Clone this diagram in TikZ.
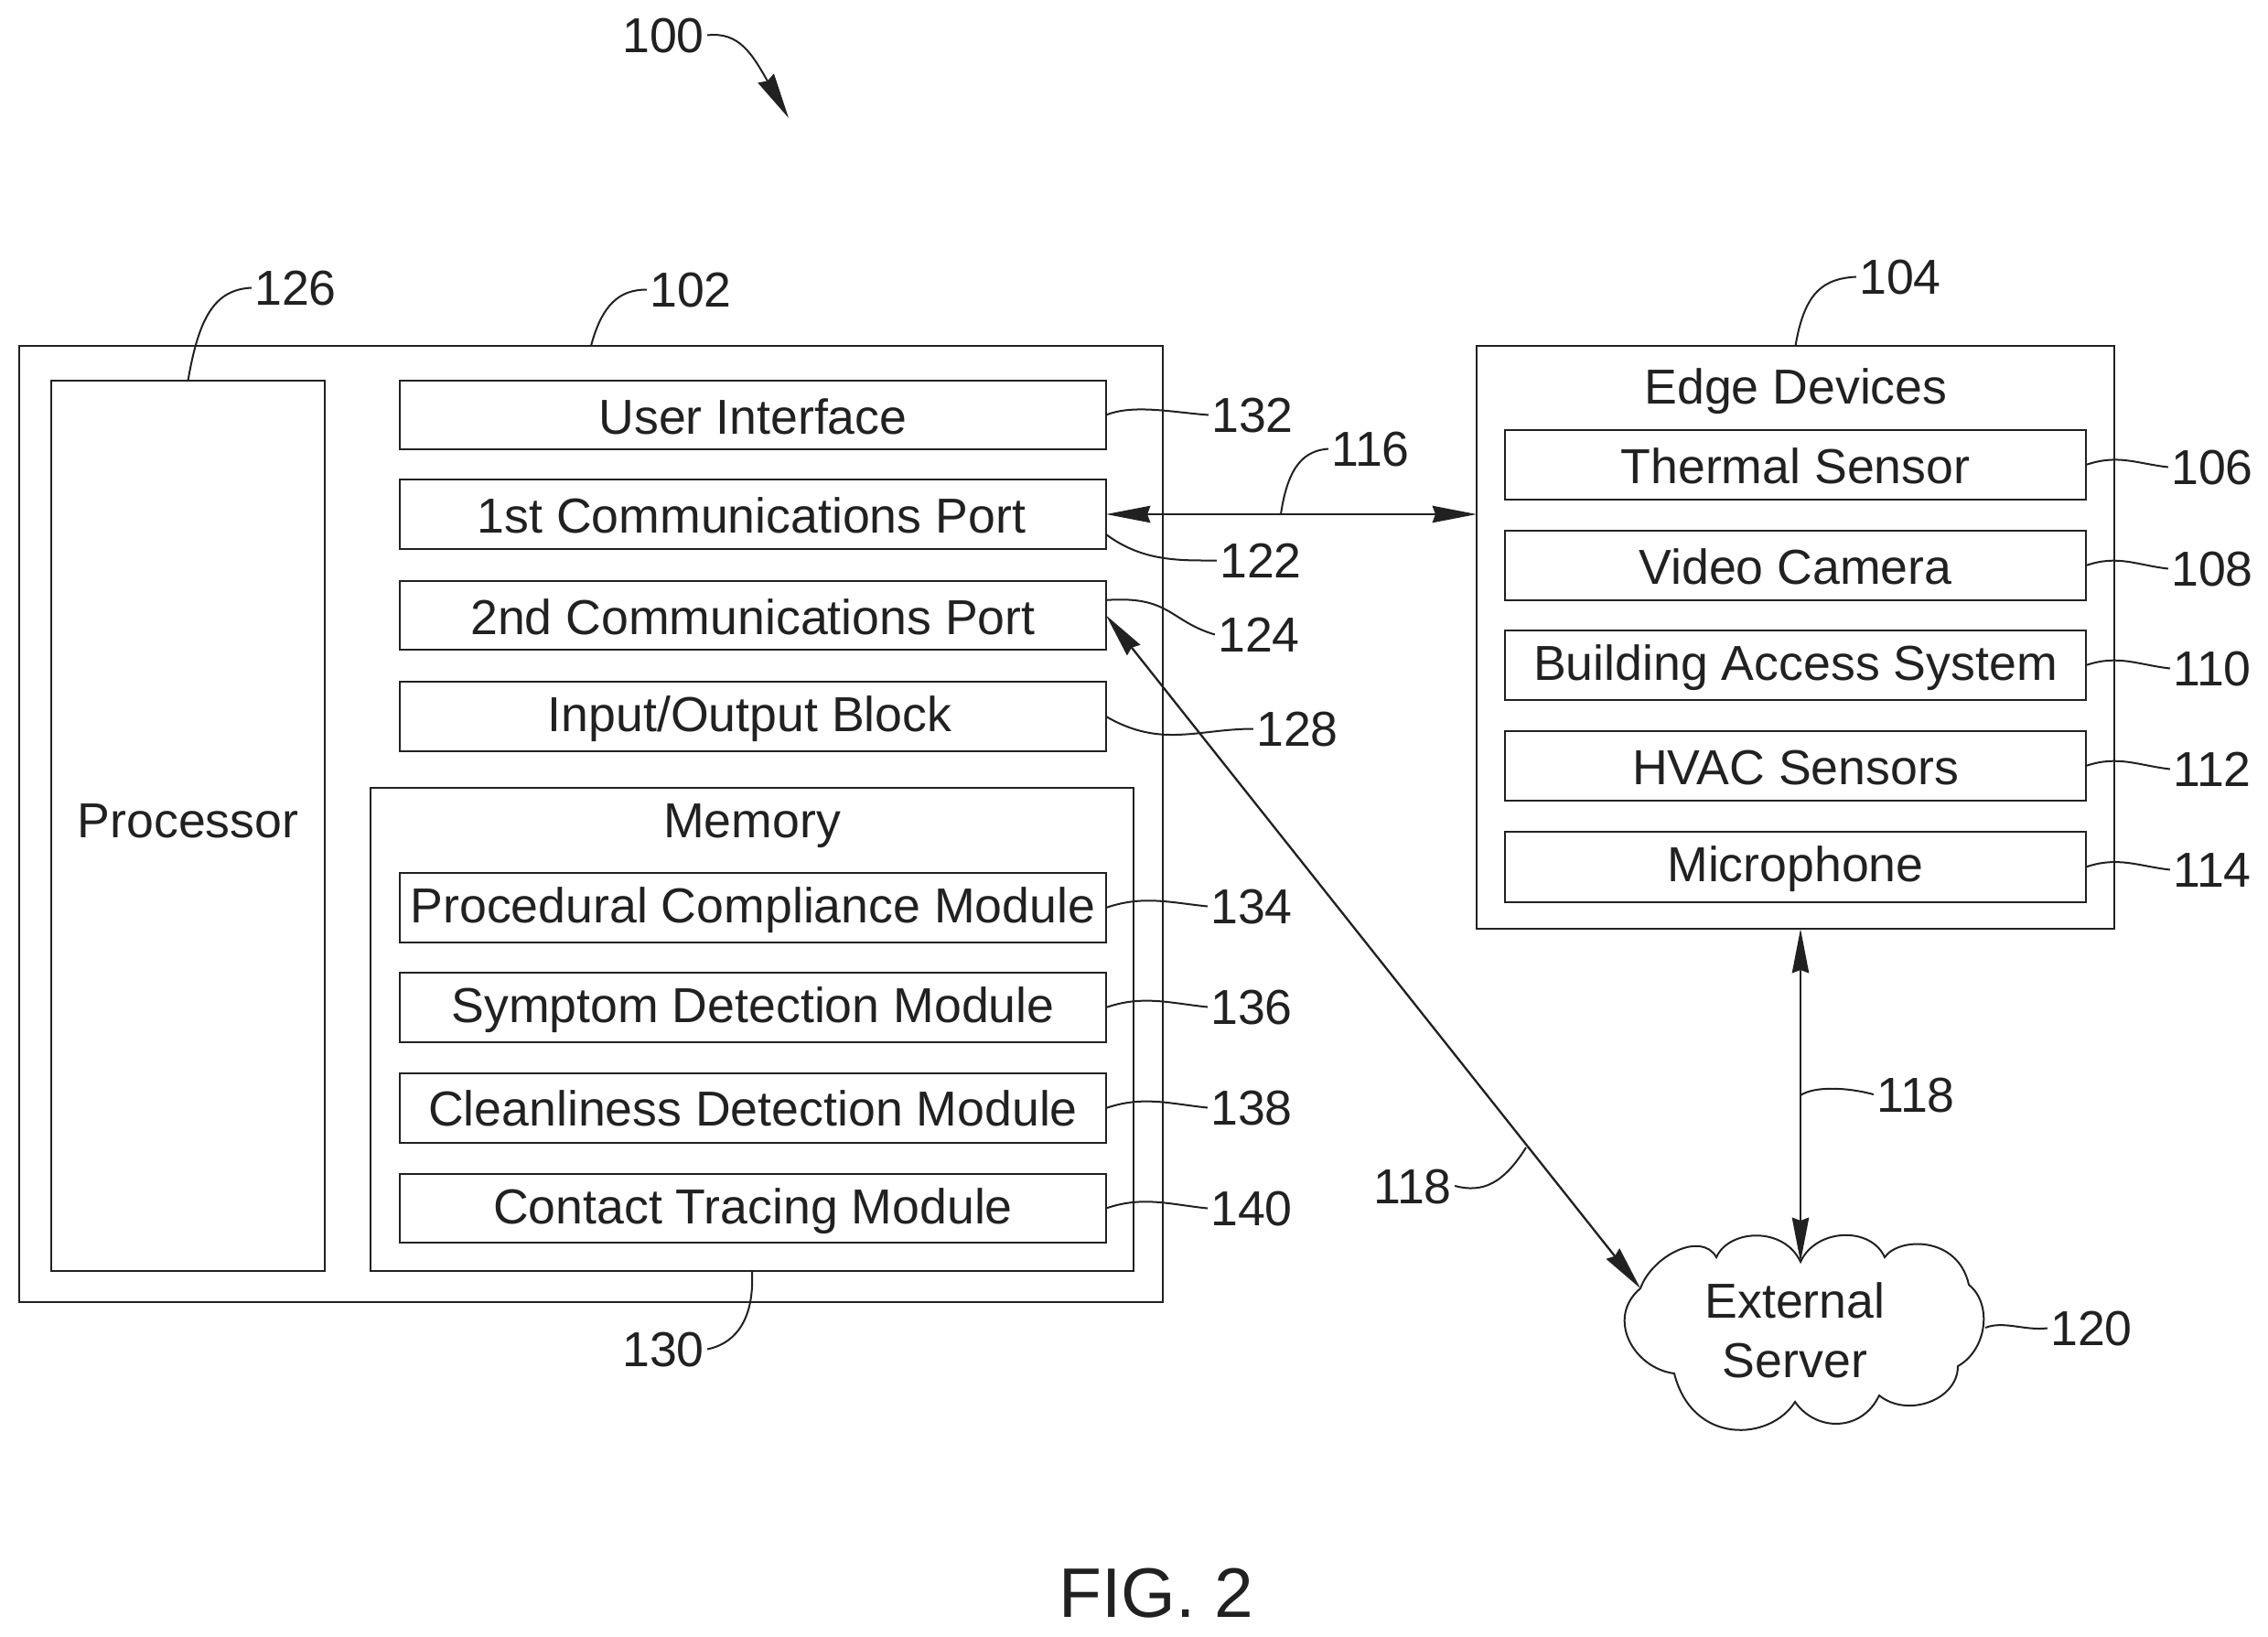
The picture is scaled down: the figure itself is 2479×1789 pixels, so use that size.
\documentclass[tikz,border=0pt]{standalone}
\usepackage{fontspec}
\setmainfont{Liberation Sans}
\usetikzlibrary{arrows.meta,calc}
\definecolor{ink}{gray}{0.13}
\tikzset{
  box/.style={draw=ink,line width=0.85pt,rectangle,inner sep=0pt,outer sep=0pt,text=ink,
    font=\fontsize{16.1}{19.5}\selectfont,text height=11.5pt,text depth=0pt,align=center},
  txt/.style={inner sep=0pt,outer sep=0pt,text=ink,font=\fontsize{16.1}{19.5}\selectfont,text height=11.5pt,text depth=0pt},
  num/.style={txt,outer sep=1pt},
  leader/.style={draw=ink,line width=0.6pt},
  link/.style={draw=ink,line width=0.7pt,{Stealth[length=14.5pt,width=5.5pt,inset=1pt]}-{Stealth[length=14.5pt,width=5.5pt,inset=1pt]}},
  oneway/.style={draw=ink,line width=0.6pt,-{Stealth[length=15pt,width=6pt,inset=1pt]}},
}
\newcommand{\bx}[7]{\node[box,minimum width={(#4-#2)*0.3pt},minimum height={(#5-#3)*0.3pt}] (#1) at ({(#2+#4)/2},{(#3+#5)/2}) {\raisebox{#7}{#6}};}
\newcommand{\lb}[3]{\node[num] (l#1) at ({#2},{#3-1.5}) {#1};}
\begin{document}
\begin{tikzpicture}[x=0.3pt,y=-0.3pt]
\useasboundingbox (0,0) rectangle (2479,1789);
% main blocks
\bx{outer}{21}{378}{1271}{1423}{}{0pt}
\bx{proc}{56}{416}{355}{1389}{Processor}{1.9pt}
\bx{ui}{437}{416}{1209}{491}{User Interface}{-0.5pt}
\bx{pa}{437}{524}{1209}{600}{\hspace*{-1pt}1st Communications Port}{-0.5pt}
\bx{pb}{437}{635}{1209}{710}{2nd Communications Port}{-0.5pt}
\bx{io}{437}{745}{1209}{821}{\hspace*{-2pt}Input/Output Block}{0.8pt}
\bx{mem}{405}{861}{1239}{1389}{}{0pt}
\node[txt] (memt) at (822,896) {Memory};
\bx{ma}{437}{954}{1209}{1030}{Procedural Compliance Module}{0.9pt}
\bx{mb}{437}{1063}{1209}{1139}{Symptom Detection Module}{0.9pt}
\bx{mc}{437}{1173}{1209}{1249}{Cleanliness Detection Module}{0pt}
\bx{md}{437}{1283}{1209}{1358}{Contact Tracing Module}{0.7pt}
% edge devices
\bx{edge}{1614}{378}{2311}{1015}{}{0pt}
\node[txt] (edget) at (1963,422) {Edge Devices};
\bx{ea}{1645}{470}{2280}{546}{Thermal Sensor}{-0.5pt}
\bx{eb}{1645}{580}{2280}{656}{Video Camera}{-0.5pt}
\bx{ec}{1645}{689}{2280}{765}{Building Access System}{0.9pt}
\bx{ed}{1645}{799}{2280}{875}{HVAC Sensors}{-0.5pt}
\bx{ee}{1645}{909}{2280}{986}{Microphone}{0.9pt}
% cloud
\coordinate (ca) at (1793,1408);
\coordinate (cc) at (1968,1379);
\draw[draw=ink,line width=0.6pt] (ca)
  .. controls (1806,1372) and (1860,1345) .. (1876,1374)
  .. controls (1890,1343) and (1950,1340) .. (cc)
  .. controls (1985,1342) and (2045,1340) .. (2060,1374)
  .. controls (2075,1352) and (2140,1350) .. (2152,1404)
  .. controls (2178,1425) and (2172,1475) .. (2140,1493)
  .. controls (2140,1530) and (2085,1550) .. (2054,1525)
  .. controls (2035,1565) and (1985,1565) .. (1962,1532)
  .. controls (1935,1575) and (1850,1580) .. (1830,1501)
  .. controls (1785,1495) and (1755,1440) .. (ca) -- cycle;
\node[txt,align=center,text height=11.5pt] (srv) at (1962,1486) {External\\Server};
\coordinate (ce) at (2170,1451);
% labels
\lb{100}{725}{40}
\lb{126}{323}{316}
\lb{102}{755}{318}
\lb{104}{2077}{304}
\lb{132}{1369}{455}
\lb{116}{1498}{492}
\lb{122}{1378}{614}
\lb{124}{1376}{695}
\lb{128}{1418}{798}
\lb{134}{1368}{992}
\lb{136}{1368}{1102}
\lb{138}{1368}{1212}
\lb{140}{1368}{1322}
\lb{106}{2418}{512}
\lb{108}{2418}{623}
\lb{110}{2418}{732}
\lb{112}{2418}{842}
\lb{114}{2418}{952}
\node[num] (lra) at (2094,1196) {118};
\node[num] (lrb) at (1544,1296) {118};
\lb{130}{725}{1476}
\lb{120}{2286}{1453}
\node[inner sep=0pt,outer sep=0pt,text=ink,font=\fontsize{23}{27}\selectfont,text height=16.5pt,text depth=0pt] (fig) at (1264,1740) {FIG. 2};
% connectors
\draw[link] (pa.east) -- (edge.west |- pa.east);
\draw[link] (pb.east) -- (ca);
\draw[link] (cc |- edge.south) -- (cc);
% leaders
\coordinate (t100) at (862,129);
\draw[oneway] (l100.east) .. controls +(35,-4) and +(-40,-70) .. (t100);
\draw[leader] (proc.north) .. controls +(12,-70) and +(-40,2) .. (l126.west);
\draw[leader] (outer.north) .. controls +(12,-45) and +(-30,0) .. (l102.west);
\draw[leader] (edge.north) .. controls +(10,-60) and +(-35,2) .. (l104.west);
\coordinate (a116) at (1400,562);
\draw[leader] (a116) .. controls +(8,-55) and +(-25,2) .. (l116.west);
\draw[leader] (ui.east) .. controls +(30,-12) and +(-40,-3) .. (l132.west);
\draw[leader] ([yshift=-6.6pt]pa.east) .. controls +(40,30) and +(-40,0) .. (l122.west);
\draw[leader] ([yshift=5pt]pb.east) .. controls +(70,-5) and +(-50,-15) .. (l124.west);
\draw[leader] (io.east) .. controls +(60,35) and +(-60,0) .. (l128.west);
\foreach \b/\l in {ma/134,mb/136,mc/138,md/140}{
  \draw[leader] (\b.east) .. controls +(40,-14) and +(-40,-4) .. (l\l.west);}
\foreach \b/\l in {ea/106,eb/108,ec/110,ed/112,ee/114}{
  \draw[leader] (\b.east) .. controls +(35,-12) and +(-35,-4) .. (l\l.west);}
\coordinate (ara) at (1968,1197);
\draw[leader] (ara) .. controls +(15,-10) and +(-30,-8) .. (lra.west);
\coordinate (arb) at (1668,1254);
\draw[leader] (arb) .. controls +(-25,40) and +(30,8) .. (lrb.east);
\draw[leader] (mem.south) .. controls +(3,60) and +(25,-5) .. (l130.east);
\draw[leader] (ce) .. controls +(20,-8) and +(-25,3) .. (l120.west);
\end{tikzpicture}
\end{document}
